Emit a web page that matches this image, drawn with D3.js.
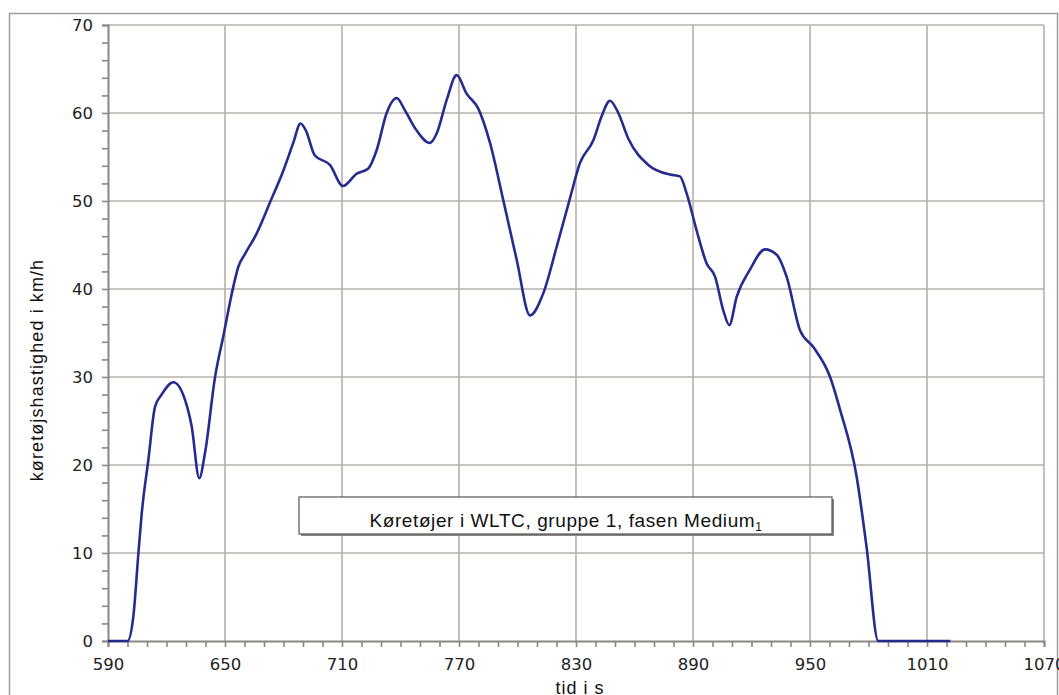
<!DOCTYPE html>
<html>
<head>
<meta charset="utf-8">
<script src="https://cdn.jsdelivr.net/npm/d3@7/dist/d3.min.js"></script>
<style>
  html, body { margin: 0; padding: 0; background: #fff; }
  svg { display: block; }
</style>
</head>
<body>
<svg id="chart" width="1059" height="695"></svg>
<script>
// WLTC class 1, medium phase: time (s) and vehicle speed (km/h)
const timeSec = [590, 600, 603, 605.6, 607.3, 610.7, 614.1, 617.5, 623.5, 629.5, 632.9, 636.8, 639.7,
  644.9, 649.1, 654.3, 656.8, 660.3, 666, 673, 680, 685, 688.7, 691.5, 696, 703.8, 710.5, 717.5, 723.5, 727.8,
  732.9, 738, 742.3, 747.4, 755.1, 758.6, 763.7, 768.8, 773.9, 779.9, 785.9, 792.7, 799.6, 806.4,
  813.2, 820.1, 826.9, 832, 838.9, 843.1, 847.4, 851.7, 856.8, 867.1, 878.2, 883.3, 886.7, 891.8,
  897, 901.3, 905.5, 908.6, 912.4, 919.2, 926.9, 932.9, 938, 944.9, 951.7, 960.3, 965.4, 973.9,
  979, 985, 1022];
const speedKmh = [0, 0, 2.8, 10, 14.5, 20.6, 26.6, 28, 29.4, 27.4, 24.4, 18.5, 21.3,
  30, 34.6, 40.3, 42.5, 44, 46.2, 49.8, 53.5, 56.6, 58.8, 58, 55.2, 54.1, 51.7, 53.1, 53.7, 55.8,
  60, 61.7, 60.3, 58.3, 56.6, 57.7, 61.5, 64.3, 62.2, 60.5, 56.6, 50.1, 43.3, 37,
  39.5, 44.8, 50.3, 54.3, 56.9, 59.6, 61.4, 60, 57.1, 54.1, 53, 52.8, 50.9, 46.7,
  42.9, 41.4, 37.6, 35.9, 39.1, 42.2, 44.5, 43.9, 41.4, 35.3, 33.4, 30, 26.3, 18.7,
  10.7, 0, 0];

const xTicks = [590, 650, 710, 770, 830, 890, 950, 1010, 1070];
const yTicks = [0, 10, 20, 30, 40, 50, 60, 70];
const xTitle = "tid i s";
const yTitle = "køretøjshastighed i km/h";
const legendText = "Køretøjer i WLTC, gruppe 1, fasen Medium";
const legendSub = "1";

const svg = d3.select("#chart");
const margin = { left: 108, right: 1044, top: 25, bottom: 641 };

const x = d3.scaleLinear().domain([590, 1070]).range([margin.left, margin.right]);
const y = d3.scaleLinear().domain([0, 70]).range([margin.bottom, margin.top]);

const gridColor = "#b7b0ab";
const axisColor = "#8c8683";
const tickFont = "DejaVu Sans, Verdana, sans-serif";
const titleFont = "Liberation Sans, Arial, sans-serif";

// outer chart frame
svg.append("rect")
  .attr("x", 9.5).attr("y", 13.5)
  .attr("width", 1048).attr("height", 700)
  .attr("fill", "none").attr("stroke", "#a19c99").attr("stroke-width", 1.5);

// gridlines
const grid = svg.append("g");
grid.selectAll(".gx").data(xTicks.slice(1)).join("line")
  .attr("x1", d => x(d)).attr("x2", d => x(d))
  .attr("y1", y(70)).attr("y2", y(0))
  .attr("stroke", gridColor).attr("stroke-width", 1.6);
grid.selectAll(".gy").data(yTicks.slice(1)).join("line")
  .attr("x1", x(590)).attr("x2", x(1070))
  .attr("y1", d => y(d)).attr("y2", d => y(d))
  .attr("stroke", gridColor).attr("stroke-width", 1.6);

// y axis with minor ticks
const yAxis = d3.axisLeft(y).tickValues(d3.range(0, 71, 2)).tickSize(6)
  .tickFormat(d => (d % 10 === 0 ? d : ""));
const gy = svg.append("g").attr("transform", `translate(${x(590)},0)`).call(yAxis);
gy.select(".domain").attr("stroke", axisColor).attr("stroke-width", 2);
gy.selectAll(".tick line").attr("stroke", axisColor).attr("stroke-width", 1.6);
gy.selectAll(".tick text")
  .attr("x", -15)
  .attr("font-family", tickFont)
  .attr("font-size", 16.5).attr("fill", "#222");

// x axis with minor ticks
const xAxis = d3.axisBottom(x).tickValues(d3.range(590, 1071, 10)).tickSize(6)
  .tickFormat(d => ((d - 590) % 60 === 0 ? d : ""));
const gx = svg.append("g").attr("transform", `translate(0,${y(0)})`).call(xAxis);
gx.select(".domain").attr("stroke", axisColor).attr("stroke-width", 2);
gx.selectAll(".tick line").attr("stroke", axisColor).attr("stroke-width", 1.6);
gx.selectAll(".tick text")
  .attr("y", 17)
  .attr("font-family", tickFont)
  .attr("font-size", 16.5).attr("fill", "#222");

// speed trace
const data = timeSec.map((t, i) => ({ t, v: speedKmh[i] }));
const line = d3.line().x(d => x(d.t)).y(d => y(d.v)).curve(d3.curveMonotoneX);
svg.append("path").datum(data)
  .attr("d", line)
  .attr("fill", "none")
  .attr("stroke", "#262b8e")
  .attr("stroke-width", 2.6)
  .attr("stroke-linejoin", "round");

// legend box
const lg = svg.append("g");
lg.append("rect")
  .attr("x", 301).attr("y", 499).attr("width", 533).attr("height", 37)
  .attr("fill", "#8a8683");
lg.append("rect")
  .attr("x", 299).attr("y", 497).attr("width", 533).attr("height", 37)
  .attr("fill", "#fff").attr("stroke", "#555").attr("stroke-width", 1.2);
const lt = lg.append("text")
  .attr("x", 566).attr("y", 527)
  .attr("text-anchor", "middle")
  .attr("font-family", titleFont)
  .attr("font-size", 19).attr("letter-spacing", 0.6).attr("fill", "#111");
lt.append("tspan").text(legendText);
lt.append("tspan").attr("dy", 4).attr("font-size", 12).text(legendSub);

// axis titles
svg.append("text")
  .attr("x", 580).attr("y", 694)
  .attr("text-anchor", "middle")
  .attr("font-family", titleFont)
  .attr("font-size", 18).attr("letter-spacing", 1).attr("fill", "#111")
  .text(xTitle);
svg.append("text")
  .attr("transform", "translate(43,370) rotate(-90)")
  .attr("text-anchor", "middle")
  .attr("font-family", titleFont)
  .attr("font-size", 18).attr("letter-spacing", 1.1).attr("fill", "#111")
  .text(yTitle);
</script>
</body>
</html>
